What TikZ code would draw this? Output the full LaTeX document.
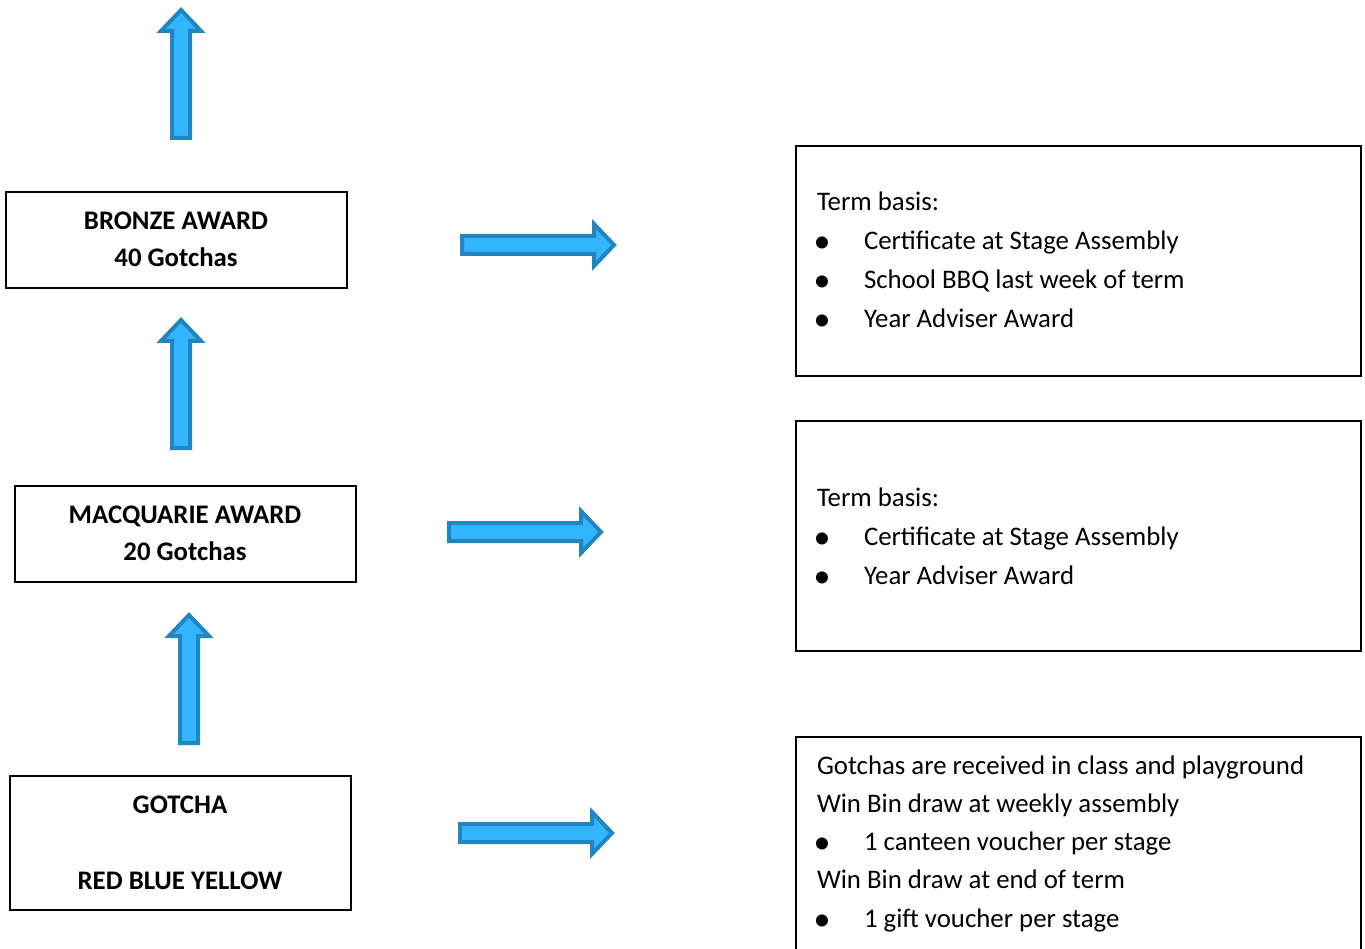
\documentclass[tikz,border=0pt]{standalone}
\usepackage{fontspec}
\setmainfont{Carlito}
\definecolor{arrfill}{RGB}{51,181,255}
\definecolor{arrline}{RGB}{33,134,192}
\tikzset{
  box/.style={draw=black, line width=1.5pt, fill=white, anchor=north west, inner sep=0pt, outer sep=0pt},
  txt/.style={inner sep=0pt, outer sep=0pt, font=\fontsize{26.8pt}{39pt}\selectfont},
  btxt/.style={txt, font=\fontsize{26.8pt}{39pt}\selectfont\bfseries, anchor=base},
  ltxt/.style={txt, anchor=base west},
  bul/.style={inner sep=0pt, outer sep=0pt, font=\fontsize{34pt}{39pt}\selectfont, anchor=base},
  arrowsty/.style={fill=arrfill, draw=arrline, line width=4pt, miter limit=10},
  uparr/.pic={\filldraw[arrowsty] (-9,128) -- (-9,21) -- (-20,21) -- (0,0) -- (20,21) -- (9,21) -- (9,128) -- cycle;},
  rightarr/.pic={\filldraw[arrowsty] (0,-9) -- (132,-9) -- (132,-21) -- (152,0) -- (132,21) -- (132,9) -- (0,9) -- cycle;}
}
\begin{document}
\begin{tikzpicture}[x=1pt,y=-1pt]
\useasboundingbox (0,0) rectangle (1365,949);
\clip (0,0) rectangle (1365,949);

% vertical arrows
\pic (up1) at (181,10) {uparr};
\pic (up2) at (181,320) {uparr};
\pic (up3) at (189,615) {uparr};

% horizontal arrows
\pic (r1) at (462,245) {rightarr};
\pic (r2) at (449,532) {rightarr};
\pic (r3) at (460,833) {rightarr};

% left boxes
\node[box, minimum width=341pt, minimum height=96pt] (bronze) at (6,192) {};
\node[btxt] (bronzeA) at (176,229.5) {BRONZE AWARD};
\node[btxt] (bronzeB) at (176,266.5) {40 Gotchas};

\node[box, minimum width=341pt, minimum height=96pt] (macq) at (15,486) {};
\node[btxt] (macqA) at (185,523.5) {MACQUARIE AWARD};
\node[btxt] (macqB) at (185,560.5) {20 Gotchas};

\node[box, minimum width=341pt, minimum height=134pt] (gotcha) at (10,776) {};
\node[btxt] (gotA) at (180,813.5) {GOTCHA};
\node[btxt] (gotB) at (180,889.5) {RED BLUE YELLOW};

% right boxes
\node[box, minimum width=565pt, minimum height=230pt] (rb1) at (796,146) {};
\node[ltxt] (t1a) at (817,211) {Term basis:};
\node[bul] (b1a) at (822,253) {•};
\node[ltxt] (t1b) at (864,250) {Certificate at Stage Assembly};
\node[bul] (b1b) at (822,292) {•};
\node[ltxt] (t1c) at (864,289) {School BBQ last week of term};
\node[bul] (b1c) at (822,331) {•};
\node[ltxt] (t1d) at (864,328) {Year Adviser Award};

\node[box, minimum width=565pt, minimum height=230pt] (rb2) at (796,421) {};
\node[ltxt] (t2a) at (817,506) {Term basis:};
\node[bul] (b2a) at (822,548) {•};
\node[ltxt] (t2b) at (864,545) {Certificate at Stage Assembly};
\node[bul] (b2b) at (822,587) {•};
\node[ltxt] (t2c) at (864,584) {Year Adviser Award};

\node[box, minimum width=565pt, minimum height=240pt] (rb3) at (796,737) {};
\node[ltxt] (t3a) at (817,774.5) {Gotchas are received in class and playground};
\node[ltxt] (t3b) at (817,812.5) {Win Bin draw at weekly assembly};
\node[bul] (b3a) at (822,853.5) {•};
\node[ltxt] (t3c) at (864,850.5) {1 canteen voucher per stage};
\node[ltxt] (t3d) at (817,888.5) {Win Bin draw at end of term};
\node[bul] (b3b) at (822,930) {•};
\node[ltxt] (t3e) at (864,927) {1 gift voucher per stage};
\end{tikzpicture}
\end{document}
